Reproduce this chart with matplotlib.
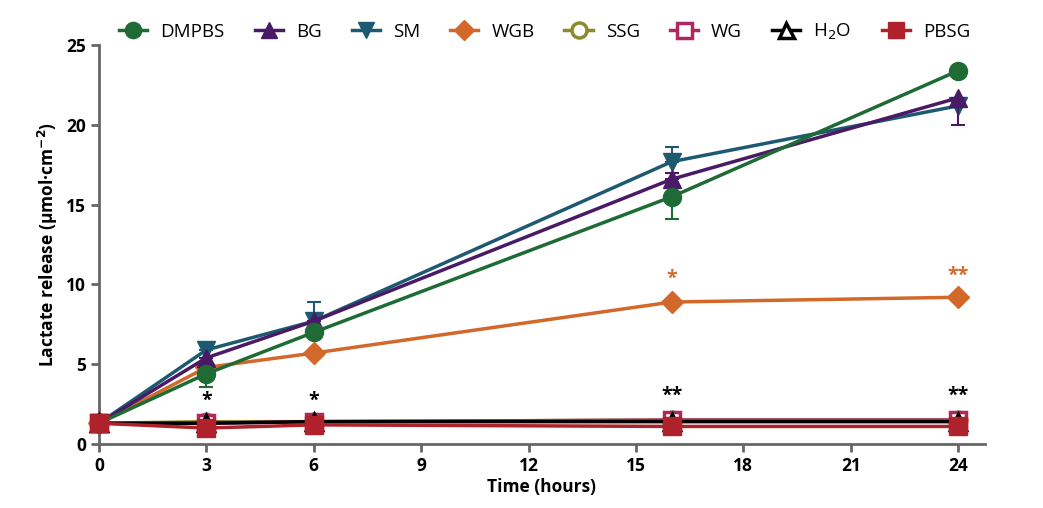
import matplotlib.pyplot as plt
import numpy as np

hours = [0, 3, 6, 16, 24]
names = ["DMPBS", "BG", "SM", "WGB", "SSG", "WG", "H$_2$O", "PBSG"]

dmpbs = [1.3, 4.4, 7.0, 15.5, 23.4]
bg = [1.3, 5.4, 7.7, 16.6, 21.7]
sm = [1.3, 5.9, 7.7, 17.7, 21.2]
wgb = [1.3, 4.8, 5.7, 8.9, 9.2]
ssg = [1.3, 1.4, 1.4, 1.5, 1.5]
wg = [1.3, 1.3, 1.4, 1.5, 1.5]
h2o = [1.3, 1.3, 1.4, 1.4, 1.4]
pbsg = [1.3, 1.0, 1.2, 1.1, 1.1]

# one-sided error bars (lower, upper)
dmpbs_err = [[0, 0.8, 0, 1.4, 0], [0, 0, 0, 0, 0]]
bg_err = [[0, 0, 0, 0, 1.7], [0, 0, 0, 0.4, 0]]
sm_err = [[0, 0, 0, 0, 0], [0, 0, 1.2, 0.9, 0]]

black_stars = [(3, 2.1, "*"), (6, 2.1, "*"), (16, 2.4, "**"), (24, 2.4, "**")]
orange_stars = [(16, 9.7, "*"), (24, 9.9, "**")]

plt.rcParams["font.family"] = ["Open Sans", "DejaVu Sans"]

fig = plt.figure(figsize=(10.43, 5.08), dpi=100)
ax = fig.add_axes([0.0949, 0.126, 0.8495, 0.785])

specs = [
    (sm, sm_err, "#1d5a72", "v", "#1d5a72", 2, 3),
    (bg, bg_err, "#4a1a66", "^", "#4a1a66", 1, 4),
    (wgb, None, "#d2682a", "D", "#d2682a", 3, 2),
    (dmpbs, dmpbs_err, "#1f6b35", "o", "#1f6b35", 0, 5),
    (ssg, None, "#8c8a2c", "o", "white", 4, 6),
    (wg, None, "#b02860", "s", "white", 5, 7),
    (h2o, None, "black", "^", "white", 6, 8),
    (pbsg, None, "#b0222b", "s", "#b0222b", 7, 9),
]
sizes = {"o": 13, "^": 13, "v": 13, "D": 11, "s": 13}
handles = [None] * 8
for y, err, col, mk, fc, idx, z in specs:
    if err is not None:
        ax.errorbar(hours, y, yerr=err, fmt="none", ecolor=col, elinewidth=1.5,
                    capsize=5, capthick=1.5, zorder=z)
    ms = sizes[mk] - (1 if fc == "white" else 0)
    h, = ax.plot(hours, y, color=col, lw=2.5, marker=mk, ms=ms, mfc=fc,
                 mec=col, mew=2.5 if fc == "white" else 1, zorder=z,
                 label=names[idx])
    handles[idx] = h

for x, yy, s in black_stars:
    ax.text(x, yy, s, ha="center", va="bottom", fontsize=14, fontweight="bold",
            color="black")
for x, yy, s in orange_stars:
    ax.text(x, yy, s, ha="center", va="bottom", fontsize=14, fontweight="bold",
            color="#d2682a")

ax.set_xlim(0, 24.75)
ax.set_ylim(0, 25)
ax.set_xticks([0, 3, 6, 9, 12, 15, 18, 21, 24])
ax.set_yticks([0, 5, 10, 15, 20, 25])
ax.spines["right"].set_visible(False)
ax.spines["top"].set_visible(False)
for s in ("left", "bottom"):
    ax.spines[s].set_color("#666666")
    ax.spines[s].set_linewidth(2)
ax.tick_params(axis="both", colors="#666666", width=2, length=6,
               labelsize=12.5, labelcolor="black")
for lab in ax.get_xticklabels() + ax.get_yticklabels():
    lab.set_fontweight("bold")
ax.set_xlabel("Time (hours)", fontsize=12.5, fontweight="bold", labelpad=2)
ax.set_ylabel("Lactate release (µmol·cm$^{\\mathbf{-2}}$)", fontsize=12.5,
              fontweight="bold")

fig.legend(handles=handles, loc="upper left", bbox_to_anchor=(0.098, 0.99),
           ncol=8, frameon=False, fontsize=13.5, handlelength=1.5,
           columnspacing=1.6, handletextpad=0.7, markerscale=0.9)

for h in handles:
    h.set_clip_on(False)

fig.savefig("out.png", dpi=100)
